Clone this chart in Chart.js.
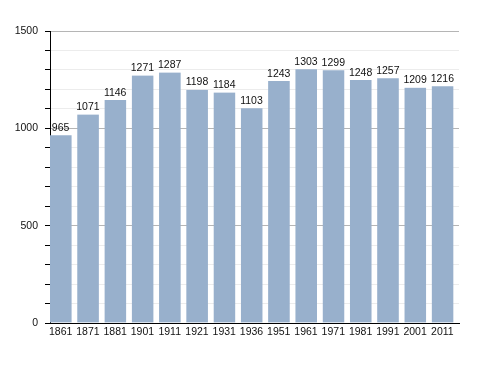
<!DOCTYPE html>
<html>
<head>
<meta charset="utf-8">
<script src="https://cdn.jsdelivr.net/npm/chart.js@4/dist/chart.umd.min.js"></script>
<style>
  html, body { margin: 0; padding: 0; background: #fff; }
  canvas { display: block; }
</style>
</head>
<body>
<canvas id="chart" width="488" height="373"></canvas>
<script>
// years and population
const years = ['1861', '1871', '1881', '1901', '1911', '1921', '1931', '1936', '1951', '1961', '1971', '1981', '1991', '2001', '2011'];
const population = [965, 1071, 1146, 1271, 1287, 1198, 1184, 1103, 1243, 1303, 1299, 1248, 1257, 1209, 1216];
const yTicks = [0, 500, 1000, 1500];

const FONT = '"Liberation Sans", Arial, sans-serif';
const GAP = 6; // empty space right of each bar

// draws the value above each bar
const valueLabels = {
    id: 'valueLabels',
    afterDatasetsDraw(chart) {
        const ctx = chart.ctx;
        const meta = chart.getDatasetMeta(0);
        ctx.save();
        ctx.font = '10.5px ' + FONT;
        ctx.fillStyle = '#111';
        ctx.textAlign = 'center';
        ctx.textBaseline = 'bottom';
        meta.data.forEach((bar, i) => {
            ctx.fillText(String(population[i]), bar.x - GAP / 2, bar.y - 2);
        });
        ctx.restore();
    }
};

new Chart(document.getElementById('chart'), {
    type: 'bar',
    data: {
        labels: years,
        datasets: [{
            data: population,
            backgroundColor: '#98b0cc',
            // transparent right border leaves the bar hugging the left of its slot
            borderColor: 'rgba(255,255,255,0)',
            borderWidth: { left: 0, right: GAP, top: 0, bottom: 0 },
            borderSkipped: false,
            barPercentage: 1.0,
            categoryPercentage: 1.0
        }]
    },
    options: {
        responsive: false,
        animation: false,
        layout: { padding: { left: 0, right: 29, top: 31, bottom: 0 } },
        plugins: {
            legend: { display: false },
            tooltip: { enabled: false }
        },
        scales: {
            x: {
                grid: { display: false, drawTicks: false, tickLength: 0 },
                border: { color: '#000', width: 1 },
                ticks: {
                    color: '#111',
                    font: { size: 10.5, family: FONT },
                    padding: 3,
                    maxRotation: 0,
                    autoSkip: false,
                    labelOffset: -GAP / 2
                },
                afterFit(scale) { scale.height = 50; }
            },
            y: {
                min: 0,
                max: 1500,
                border: { color: '#000', width: 1 },
                grid: {
                    color: ctx => (yTicks.includes(ctx.tick.value) ? '#b5b5b5' : '#ececec'),
                    tickColor: '#000',
                    tickLength: 5,
                    lineWidth: 1
                },
                ticks: {
                    stepSize: 100,
                    color: '#111',
                    font: { size: 10.5, family: FONT },
                    padding: 7,
                    callback: v => (yTicks.includes(v) ? v : '')
                },
                afterFit(scale) { scale.width = 50; }
            }
        }
    },
    plugins: [valueLabels]
});
</script>
</body>
</html>
